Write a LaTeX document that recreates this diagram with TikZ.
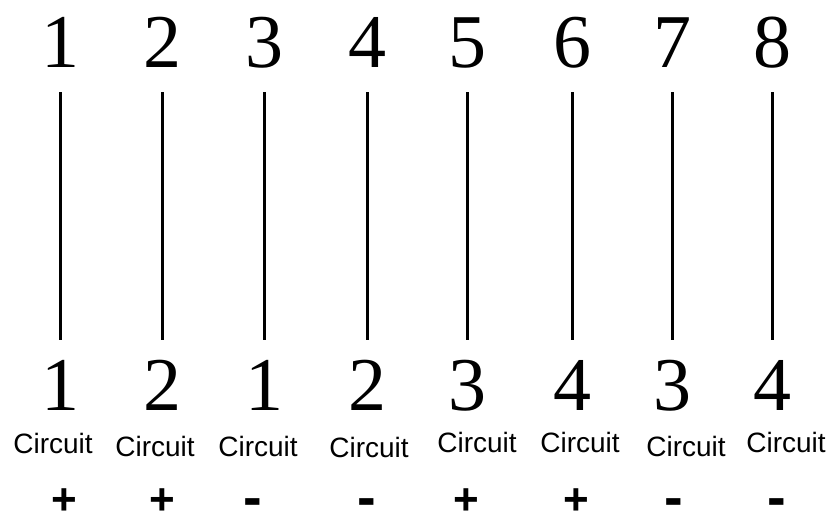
\documentclass[tikz,border=0pt]{standalone}
\usepackage{fontspec}
\setmainfont{Liberation Serif}
\setsansfont{Liberation Sans}
\begin{document}
\begin{tikzpicture}[x=1pt,y=-1pt,
  num/.style={inner sep=0pt,anchor=base,font=\fontsize{76}{76}\selectfont},
  circ/.style={inner sep=0pt,anchor=base,font=\sffamily\fontsize{28}{28}\selectfont},
  plus/.style={inner sep=0pt,anchor=base,font=\sffamily\bfseries\fontsize{44}{44}\selectfont},
  minus/.style={inner sep=0pt,anchor=base,font=\sffamily\bfseries\fontsize{56}{56}\selectfont},
  wire/.style={line width=3pt}]
\useasboundingbox (0,0) rectangle (836,517);
% top numbers
\foreach \i/\x in {1/60,2/162,3/264,4/367,5/467,6/572,7/672,8/772}{
  \node[num] (t\i) at (\x,67) {\i};
  \coordinate (a\i) at (\x,92);
  \coordinate (b\i) at (\x,340);
  \draw[wire] (a\i) -- (b\i);
}
% bottom numbers
\foreach \i/\x/\n in {1/60/1,2/162/2,3/264/1,4/367/2,5/467/3,6/572/4,7/672/3,8/772/4}{
  \node[num] (n\i) at (\x,410) {\n};
}
% circuit labels
\foreach \i/\x/\y in {1/53/453,2/155/456,3/258/456,4/369/457,5/477/452,6/580/452,7/686/456,8/786/452}{
  \node[circ] (c\i) at (\x,\y) {Circuit};
}
% signs
\node[plus] (s1) at (64,514) {+};
\node[plus] (s2) at (162,514) {+};
\node[minus] (s3) at (253,516) {-};
\node[minus] (s4) at (367,516) {-};
\node[plus] (s5) at (466,514) {+};
\node[plus] (s6) at (576,514) {+};
\node[minus] (s7) at (674,516) {-};
\node[minus] (s8) at (777,516) {-};
\end{tikzpicture}
\end{document}
